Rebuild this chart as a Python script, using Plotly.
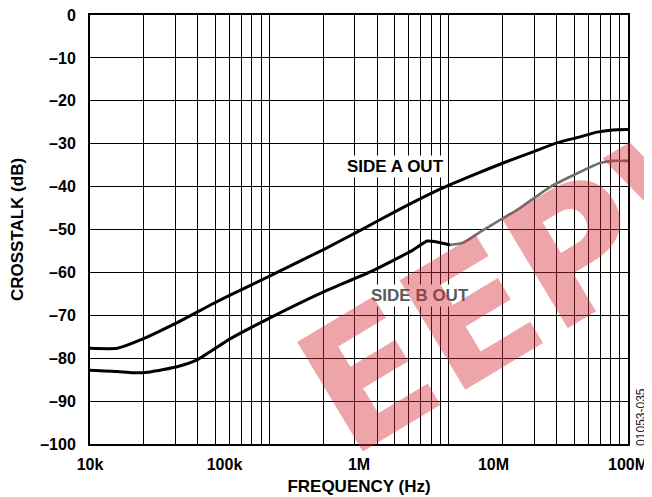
import plotly.graph_objects as go

# crosstalk vs frequency
side_a_freq = [1e4, 15.9e3, 23.5e3, 44.4e3, 82e3, 110e3, 218e3, 559e3, 966e3,
               1.92e6, 4.0e6, 7.04e6, 11.8e6, 19.7e6, 29.6e6, 44e6, 58.8e6, 77.4e6, 100e6]
side_a_db = [-77.7, -77.7, -75.8, -71.7, -67.3, -65.3, -60.8, -54.5, -50.6,
             -45.6, -40.6, -37.3, -34.5, -31.9, -29.8, -28.4, -27.3, -26.8, -26.7]

side_b_freq = [1e4, 15.9e3, 20.9e3, 28e3, 44.4e3, 62.4e3, 110e3, 218e3, 540e3,
               1.21e6, 2.52e6, 3.21e6, 3.8e6, 4.75e6]
side_b_db = [-82.8, -83.1, -83.4, -83.2, -82.0, -80.4, -75.5, -70.6, -64.6,
             -59.9, -54.8, -52.7, -52.9, -53.6]

# upper part of side B is drawn in grey
side_b_hi_freq = [4.75e6, 5.93e6, 7.93e6, 15.7e6, 26.3e6, 44e6, 61.9e6, 77.4e6, 100e6]
side_b_hi_db = [-53.6, -53.1, -50.6, -45.0, -40.1, -36.6, -34.5, -34.0, -34.0]

x_tickvals = [1e4, 1e5, 1e6, 1e7, 1e8]
x_ticktext = ["10k", "100k", "1M", "10M", "100M"]
y_tickvals = list(range(0, -101, -10))
y_ticktext = [str(v).replace("-", "\u2013") for v in y_tickvals]

# the printed grid is a 3-decade log grid, not aligned with the labels
grid_vals = [m * 10 ** d for d in range(3) for m in range(1, 10)] + [1000]

FONT = "Liberation Sans, Arial, sans-serif"
curve = dict(shape="spline", smoothing=0.5)

fig = go.Figure()
fig.add_trace(go.Scatter(x=[1, 1000], y=[-100, -100], xaxis="x2", mode="lines",
                         line=dict(width=0), hoverinfo="skip", showlegend=False))
fig.add_trace(go.Scatter(x=side_a_freq, y=side_a_db, mode="lines", name="SIDE A OUT",
                         line=dict(color="black", width=3, **curve)))
fig.add_trace(go.Scatter(x=side_b_freq, y=side_b_db, mode="lines", name="SIDE B OUT",
                         line=dict(color="black", width=3, **curve)))
fig.add_trace(go.Scatter(x=side_b_hi_freq, y=side_b_hi_db, mode="lines", name="SIDE B OUT",
                         line=dict(color="#707070", width=2.6, **curve)))

# page body has an 8px margin, so the figure is 8px smaller each way
fig.update_layout(
    width=644, height=489,
    margin=dict(l=82, r=24, t=7, b=53, autoexpand=False),
    paper_bgcolor="white", plot_bgcolor="white",
    showlegend=False,
    font=dict(family=FONT, size=16, color="black", weight="bold"),
    xaxis=dict(
        type="log", range=[4, 8], automargin=False, ticklabeloverflow="allow",
        tickvals=x_tickvals, ticktext=x_ticktext,
        showgrid=False, zeroline=False,
        ticks="outside", ticklen=5, tickcolor="rgba(0,0,0,0)",
        showline=True, mirror=True, linecolor="black", linewidth=2,
        tickfont=dict(family=FONT, size=16, weight="bold"),
        title=dict(text="FREQUENCY (Hz)", standoff=8,
                   font=dict(family=FONT, size=17, weight="bold")),
    ),
    xaxis2=dict(
        type="log", range=[0, 3], overlaying="x", side="bottom", automargin=False,
        tickvals=grid_vals, showticklabels=False, ticks="",
        showgrid=True, gridcolor="black", gridwidth=1,
        zeroline=False, showline=False,
    ),
    yaxis=dict(
        range=[-100, 0], tickvals=y_tickvals, ticktext=y_ticktext,
        automargin=False, ticklabeloverflow="allow",
        showgrid=True, gridcolor="black", gridwidth=1, zeroline=False,
        ticks="outside", ticklen=9, tickcolor="rgba(0,0,0,0)",
        showline=True, mirror=True, linecolor="black", linewidth=2,
        tickfont=dict(family=FONT, size=16, weight="bold"),
        title=dict(text="CROSSTALK (dB)", standoff=12,
                   font=dict(family=FONT, size=17, weight="bold")),
    ),
)

fig.add_annotation(x=6.268, y=-35.4, text="SIDE A OUT", showarrow=False,
                   font=dict(family=FONT, size=17, color="black", weight="bold"),
                   bgcolor="white")
fig.add_annotation(x=6.4535, y=-65.3, text="SIDE B OUT", showarrow=False,
                   font=dict(family=FONT, size=17, color="#5a5a5a", weight="bold"),
                   bgcolor="white")
fig.add_annotation(x=1.024, y=0.063, xref="paper", yref="paper", text="01053-035",
                   showarrow=False, textangle=-90, xanchor="center", yanchor="middle",
                   font=dict(family=FONT, size=12, color="#222222", weight="normal"))
# watermark
fig.add_annotation(x=0.87, y=0.42, xref="paper", yref="paper", text="EEPW",
                   showarrow=False, textangle=-31, xanchor="center", yanchor="middle",
                   font=dict(family="DejaVu Sans", size=175, color="rgba(215,40,50,0.42)",
                             weight="bold"))

fig.write_html("out.html")
